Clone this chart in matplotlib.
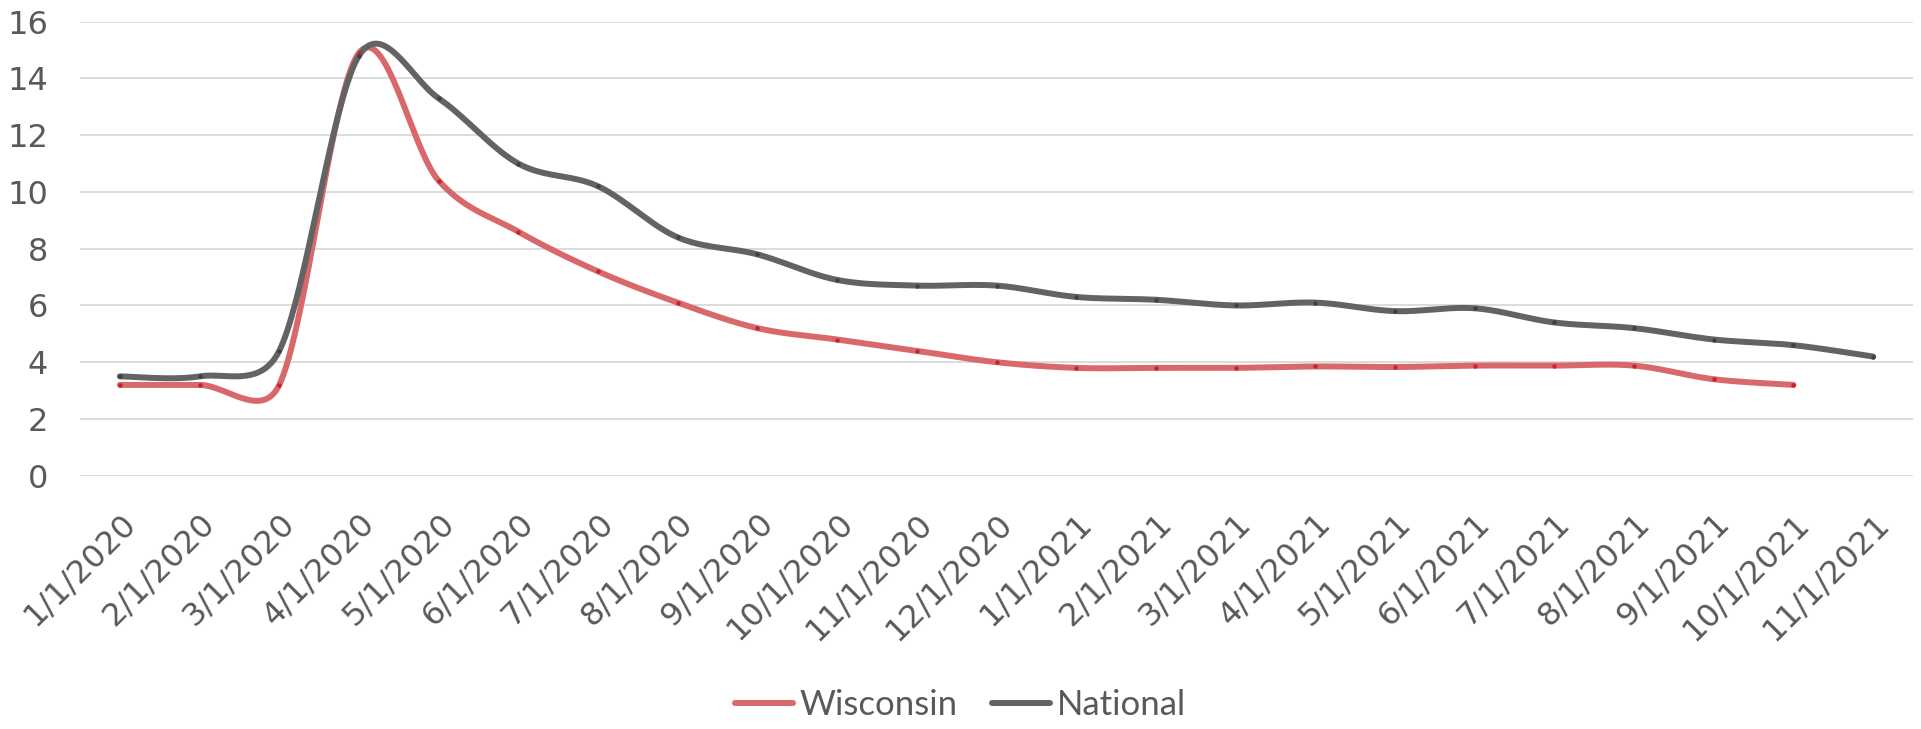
import matplotlib
matplotlib.use('Agg')
import matplotlib.pyplot as plt
import numpy as np

dates = ['1/1/2020', '2/1/2020', '3/1/2020', '4/1/2020', '5/1/2020', '6/1/2020',
         '7/1/2020', '8/1/2020', '9/1/2020', '10/1/2020', '11/1/2020', '12/1/2020',
         '1/1/2021', '2/1/2021', '3/1/2021', '4/1/2021', '5/1/2021', '6/1/2021',
         '7/1/2021', '8/1/2021', '9/1/2021', '10/1/2021', '11/1/2021']
wisconsin = [3.2, 3.2, 3.2, 14.9, 10.4, 8.6, 7.2, 6.1, 5.2, 4.8, 4.4, 4.0,
             3.8, 3.8, 3.8, 3.85, 3.83, 3.88, 3.88, 3.88, 3.4, 3.2, None]
national = [3.5, 3.5, 4.4, 14.8, 13.3, 11.0, 10.2, 8.4, 7.8, 6.9, 6.7, 6.7,
            6.3, 6.2, 6.0, 6.1, 5.8, 5.9, 5.4, 5.2, 4.8, 4.6, 4.2]
yticks = [0, 2, 4, 6, 8, 10, 12, 14, 16]

TEXT = '#595959'
plt.rcParams['font.family'] = ['DejaVu Sans']

W, H = 1921, 729
fig = plt.figure(figsize=(W / 100, H / 100), dpi=100)
ax = fig.add_axes([80 / W, 1 - 475.7 / H, (1913 - 80) / W, (475.7 - 21.7) / H])
ax.set_xlim(-0.5, len(dates) - 0.5)
ax.set_ylim(0, 16)


def excel_smooth(ax, xs, ys, n=40):
    pts = ax.transData.transform(np.column_stack([xs, ys]))
    N = len(pts)
    out = [pts[0]]
    t = np.linspace(0, 1, n)[1:]
    for i in range(N - 1):
        p0 = pts[i - 1] if i > 0 else pts[i]
        p1 = pts[i]
        p2 = pts[i + 1]
        p3 = pts[i + 2] if i + 2 < N else pts[i + 1]
        d12 = np.linalg.norm(p2 - p1)
        t1 = (p2 - p0) / 6.0
        t2 = (p3 - p1) / 6.0
        for tv in (t1, t2):
            L = np.linalg.norm(tv)
            if L > d12 / 2:
                tv *= (d12 / 2) / L
        c1 = p1 + t1
        c2 = p2 - t2
        seg = (((1 - t) ** 3)[:, None] * p1 + (3 * (1 - t) ** 2 * t)[:, None] * c1
               + (3 * (1 - t) * t ** 2)[:, None] * c2 + (t ** 3)[:, None] * p2)
        out.extend(seg)
    out = np.array(out)
    return ax.transData.inverted().transform(out)


series = [
    ('Wisconsin', wisconsin, '#D9686A', '#C8232B'),
    ('National', national, '#636363', '#404040'),
]
for name, vals, col, mcol in series:
    xs = np.array([i for i, v in enumerate(vals) if v is not None], dtype=float)
    ys = np.array([v for v in vals if v is not None], dtype=float)
    sm = excel_smooth(ax, xs, ys)
    ax.plot(sm[:, 0], sm[:, 1], color=col, lw=4.3, solid_capstyle='round',
            solid_joinstyle='round', label=name, zorder=3)
    ax.plot(xs, ys, ls='none', marker='o', ms=3.2, color=mcol, mec='none', zorder=4)

ax.set_yticks(yticks)
ax.set_yticklabels([str(v) for v in yticks])
ax.set_xticks(range(len(dates)))
ax.set_xticklabels(dates, rotation=45, ha='right', va='top', rotation_mode='anchor')
ax.tick_params(axis='both', length=0, labelsize=23, labelcolor=TEXT)
ax.tick_params(axis='y', pad=23)
ax.tick_params(axis='x', pad=23)
ax.grid(axis='y', color='#D9D9D9', lw=1.3)
ax.set_axisbelow(True)
for s in ax.spines.values():
    s.set_visible(False)

leg = fig.legend(loc='center', bbox_to_anchor=(0.5, 24 / H), ncol=2, frameon=False,
                 prop={'family': ['Lato', 'DejaVu Sans'], 'size': 25},
                 handlelength=1.65, handletextpad=0.2, columnspacing=1.0,
                 labelcolor=TEXT)

fig.savefig('out.png', dpi=100)
